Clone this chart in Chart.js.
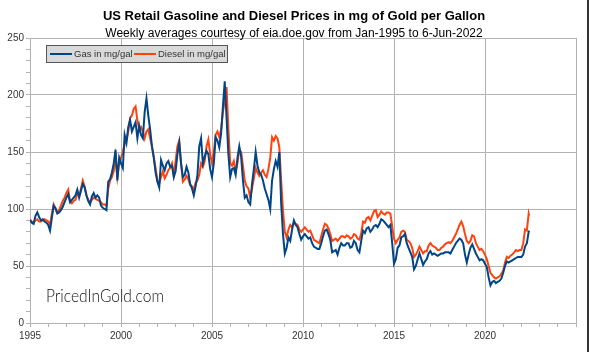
<!DOCTYPE html>
<html>
<head>
<meta charset="utf-8">
<script src="https://cdn.jsdelivr.net/npm/chart.js@4.4.1/dist/chart.umd.min.js"></script>
<style>
  html, body { margin: 0; padding: 0; background: #fff; }
  #wrap { width: 589px; height: 352px; position: relative; }
</style>
</head>
<body>
<div id="wrap"><canvas id="chart" width="589" height="352"></canvas></div>
<script>
const years = [
  1995.0, 1995.1, 1995.2, 1995.3, 1995.4, 1995.5, 1995.6, 1995.7, 1995.8, 1995.9,
  1996.0, 1996.1, 1996.2, 1996.3, 1996.4, 1996.5, 1996.6, 1996.7, 1996.8, 1996.9,
  1997.0, 1997.1, 1997.2, 1997.3, 1997.4, 1997.5, 1997.6, 1997.7, 1997.8, 1997.9,
  1998.0, 1998.1, 1998.2, 1998.3, 1998.4, 1998.5, 1998.6, 1998.7, 1998.8, 1998.9,
  1999.0, 1999.1, 1999.2, 1999.3, 1999.4, 1999.5, 1999.6, 1999.7, 1999.8, 1999.9,
  2000.0, 2000.1, 2000.2, 2000.3, 2000.4, 2000.5, 2000.6, 2000.7, 2000.8, 2000.9,
  2001.0, 2001.1, 2001.2, 2001.3, 2001.4, 2001.5, 2001.6, 2001.7, 2001.8, 2001.9,
  2002.0, 2002.1, 2002.2, 2002.3, 2002.4, 2002.5, 2002.6, 2002.7, 2002.8, 2002.9,
  2003.0, 2003.1, 2003.2, 2003.3, 2003.4, 2003.5, 2003.6, 2003.7, 2003.8, 2003.9,
  2004.0, 2004.1, 2004.2, 2004.3, 2004.4, 2004.5, 2004.6, 2004.7, 2004.8, 2004.9,
  2005.0, 2005.1, 2005.2, 2005.3, 2005.4, 2005.5, 2005.6, 2005.7, 2005.8, 2005.9,
  2006.0, 2006.1, 2006.2, 2006.3, 2006.4, 2006.5, 2006.6, 2006.7, 2006.8, 2006.9,
  2007.0, 2007.1, 2007.2, 2007.3, 2007.4, 2007.5, 2007.6, 2007.7, 2007.8, 2007.9,
  2008.0, 2008.1, 2008.2, 2008.3, 2008.4, 2008.5, 2008.6, 2008.7, 2008.8, 2008.9,
  2009.0, 2009.1, 2009.2, 2009.3, 2009.4, 2009.5, 2009.6, 2009.7, 2009.8, 2009.9,
  2010.0, 2010.1, 2010.2, 2010.3, 2010.4, 2010.5, 2010.6, 2010.7, 2010.8, 2010.9,
  2011.0, 2011.1, 2011.2, 2011.3, 2011.4, 2011.5, 2011.6, 2011.7, 2011.8, 2011.9,
  2012.0, 2012.1, 2012.2, 2012.3, 2012.4, 2012.5, 2012.6, 2012.7, 2012.8, 2012.9,
  2013.0, 2013.1, 2013.2, 2013.3, 2013.4, 2013.5, 2013.6, 2013.7, 2013.8, 2013.9,
  2014.0, 2014.1, 2014.2, 2014.3, 2014.4, 2014.5, 2014.6, 2014.7, 2014.8, 2014.9,
  2015.0, 2015.1, 2015.2, 2015.3, 2015.4, 2015.5, 2015.6, 2015.7, 2015.8, 2015.9,
  2016.0, 2016.1, 2016.2, 2016.3, 2016.4, 2016.5, 2016.6, 2016.7, 2016.8, 2016.9,
  2017.0, 2017.1, 2017.2, 2017.3, 2017.4, 2017.5, 2017.6, 2017.7, 2017.8, 2017.9,
  2018.0, 2018.1, 2018.2, 2018.3, 2018.4, 2018.5, 2018.6, 2018.7, 2018.8, 2018.9,
  2019.0, 2019.1, 2019.2, 2019.3, 2019.4, 2019.5, 2019.6, 2019.7, 2019.8, 2019.9,
  2020.0, 2020.1, 2020.2, 2020.3, 2020.4, 2020.5, 2020.6, 2020.7, 2020.8, 2020.9,
  2021.0, 2021.1, 2021.2, 2021.3, 2021.4, 2021.5, 2021.6, 2021.7, 2021.8, 2021.9,
  2022.0, 2022.1, 2022.2, 2022.3, 2022.4, 2022.43
];

const gas = [
  90, 88, 87, 94, 97, 93, 90, 91, 89, 88,
  86, 81, 92, 103, 101, 96, 97, 99, 102, 106,
  110, 113, 106, 108, 110, 112, 117, 110, 116, 122,
  119, 112, 107, 104, 111, 114, 110, 112, 110, 103,
  101, 100, 99, 124, 126, 132, 140, 152, 125, 145,
  140, 136, 165, 158, 172, 178, 168, 172, 176, 162,
  173, 165, 162, 185, 197, 182, 170, 155, 145, 132,
  124, 119, 143, 138, 134, 140, 142, 137, 138, 128,
  133, 148, 158, 140, 128, 130, 137, 132, 122, 118,
  112, 120, 130, 155, 162, 140, 146, 151, 148, 135,
  128, 140, 163, 160, 154, 166, 190, 212, 180, 148,
  128, 135, 136, 130, 145, 155, 146, 125, 110, 112,
  106, 104, 122, 135, 150, 138, 132, 130, 125, 118,
  113, 108, 100, 125, 135, 142, 137, 150, 105, 78,
  61, 66, 75, 72, 82, 90, 86, 84, 78, 73,
  76, 78, 76, 74, 75, 70, 67, 66, 65, 65,
  70, 76, 81, 82, 78, 73, 62, 63, 64, 60,
  66, 70, 68, 68, 70, 70, 66, 67, 72, 70,
  64, 62, 72, 81, 79, 83, 84, 80, 82, 85,
  86, 84, 87, 91, 90, 88, 86, 84, 86, 70,
  52, 56, 66, 68, 75, 76, 78, 70, 66, 62,
  58, 47, 50, 56, 61, 56, 51, 54, 56, 61,
  63, 60, 61, 60, 59, 60, 61, 61, 62, 62,
  62, 61, 64, 67, 70, 72, 74, 73, 70, 60,
  53, 60, 66, 69, 65, 61, 58, 55, 56, 55,
  52, 49, 40, 33, 36, 37, 35, 36, 37, 39,
  44, 50, 54, 53, 54, 55, 56, 57, 58, 58,
  58, 60, 67, 70, 80, 81
];

const diesel = [
  91, 89, 88, 90, 91, 89, 89, 90, 91, 90,
  89, 86, 96, 104, 100, 97, 99, 103, 107, 110,
  114, 117, 107, 105, 107, 108, 114, 111, 118, 125,
  120, 112, 108, 106, 108, 110, 109, 108, 107, 106,
  104, 104, 103, 118, 125, 128, 133, 146, 128, 140,
  145, 150, 157, 160, 168, 180, 182, 188, 190, 178,
  170, 172, 168, 162, 168, 170, 162, 155, 146, 136,
  125, 122, 128, 133, 127, 130, 134, 136, 140, 130,
  142, 155, 160, 140, 124, 126, 129, 126, 121, 120,
  117, 123, 125, 130, 140, 137, 142, 155, 161, 148,
  140, 150, 165, 168, 163, 170, 185, 195, 207, 170,
  140, 138, 142, 133, 140, 152, 150, 138, 125, 120,
  118, 110, 118, 127, 136, 132, 129, 132, 134, 130,
  128, 135, 145, 163, 160, 164, 162, 154, 125, 99,
  80, 75, 82, 86, 84, 88, 87, 86, 82, 80,
  82, 84, 82, 80, 81, 77, 73, 72, 71, 70,
  76, 82, 87, 86, 83, 78, 72, 73, 74, 72,
  74, 76, 76, 75, 77, 76, 74, 75, 78, 77,
  74, 73, 79, 89, 88, 92, 93, 90, 94, 98,
  99, 93, 95, 98, 96, 95, 97, 97, 96, 85,
  74, 70, 73, 75, 80, 81, 80, 73, 72, 70,
  66, 58, 60, 63, 67, 64, 61, 63, 63, 68,
  70, 68, 67, 66, 64, 64, 66, 67, 69, 70,
  71, 70, 72, 75, 78, 82, 86, 89, 85, 78,
  72, 70, 72, 77, 76, 70, 67, 64, 65, 63,
  60, 56, 50, 44, 42, 40, 39, 40, 41, 43,
  46, 53, 58, 57, 59, 60, 62, 64, 63, 64,
  64, 70, 82, 81, 96, 94
];

const seriesNames = ['Gas in mg/gal', 'Diesel in mg/gal'];
const seriesColors = ['#004586', '#ff420e'];

const titleText = 'US Retail Gasoline and Diesel Prices in mg of Gold per Gallon';
const subtitleText = 'Weekly averages courtesy of eia.doe.gov from Jan-1995 to 6-Jun-2022';

const gridColor = '#b3b3b3';
const textColor = '#333';

const decor = {
    id: 'decor',
    afterDraw(chart) {
        const ctx = chart.ctx;
        ctx.save();
        // titles
        ctx.fillStyle = '#000';
        ctx.textAlign = 'center';
        ctx.textBaseline = 'alphabetic';
        ctx.font = 'bold 13px "Liberation Sans", Arial, sans-serif';
        ctx.fillText(titleText, 294, 20);
        ctx.font = '12px "Liberation Sans", Arial, sans-serif';
        ctx.fillText(subtitleText, 294, 37);

        // legend box
        ctx.fillStyle = '#d9d9d9';
        ctx.fillRect(46.5, 45.5, 181, 17);
        ctx.strokeStyle = '#555';
        ctx.lineWidth = 1;
        ctx.strokeRect(46.5, 45.5, 181, 17);
        ctx.font = '9.5px "Liberation Sans", Arial, sans-serif';
        ctx.textAlign = 'left';
        ctx.textBaseline = 'middle';
        const items = [{ x: 50, tx: 74 }, { x: 134, tx: 158 }];
        chart.data.datasets.forEach((ds, i) => {
            ctx.strokeStyle = ds.borderColor;
            ctx.lineWidth = 2;
            ctx.beginPath();
            ctx.moveTo(items[i].x, 54);
            ctx.lineTo(items[i].x + 22, 54);
            ctx.stroke();
            ctx.fillStyle = textColor;
            ctx.fillText(ds.label, items[i].tx, 54.5);
        });

        // watermark
        ctx.fillStyle = '#111';
        ctx.textBaseline = 'alphabetic';
        ctx.font = '300 17px Lato, "Open Sans", sans-serif';
        ctx.fillText('PricedInGold.com', 46, 302, 118);

        // frame edge on the right
        ctx.fillStyle = '#333';
        ctx.fillRect(587, 0, 2, 352);
        ctx.restore();
    }
};

new Chart(document.getElementById('chart').getContext('2d'), {
    type: 'line',
    data: {
        datasets: [gas, diesel].map((vals, i) => ({
            label: seriesNames[i],
            data: vals.map((v, j) => ({ x: years[j], y: v })),
            borderColor: seriesColors[i],
            borderWidth: 2,
            pointRadius: 0,
            tension: 0,
            fill: false
        }))
    },
    options: {
        responsive: false,
        animation: false,
        layout: { padding: { left: 0, top: 38, right: 13, bottom: 0 } },
        plugins: { legend: { display: false }, tooltip: { enabled: false } },
        scales: {
            x: {
                type: 'linear',
                min: 1995,
                max: 2025,
                afterFit: s => { s.height = 29; },
                ticks: {
                    stepSize: 1,
                    autoSkip: false,
                    maxRotation: 0,
                    color: textColor,
                    font: { size: 10, family: '"Liberation Sans", Arial, sans-serif' },
                    padding: 3,
                    callback: v => (v % 5 === 0 && v < 2025) ? String(v) : ''
                },
                grid: {
                    color: c => (c.tick && c.tick.value % 5 === 0) ? gridColor : 'rgba(0,0,0,0)',
                    tickColor: gridColor,
                    tickLength: 4
                },
                border: { color: gridColor }
            },
            y: {
                min: 0,
                max: 250,
                afterFit: s => { s.width = 30; },
                ticks: {
                    stepSize: 10,
                    autoSkip: false,
                    color: textColor,
                    font: { size: 10, family: '"Liberation Sans", Arial, sans-serif' },
                    padding: 2,
                    callback: v => v % 50 === 0 ? String(v) : ''
                },
                grid: {
                    color: c => (c.tick && c.tick.value % 50 === 0) ? gridColor : 'rgba(0,0,0,0)',
                    tickColor: gridColor,
                    tickLength: 4
                },
                border: { color: gridColor }
            }
        }
    },
    plugins: [decor]
});
</script>
</body>
</html>
